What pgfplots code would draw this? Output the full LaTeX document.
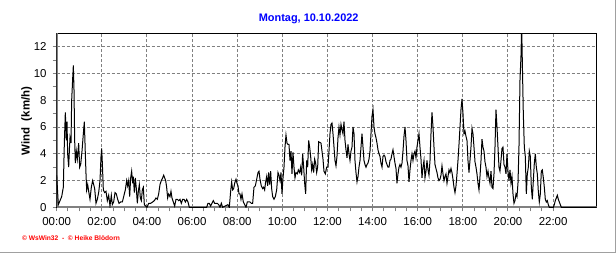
\documentclass[border=0pt]{standalone}
\usepackage{pgfplots}
\usepackage{pgfplotstable}
\pgfplotsset{compat=1.18}
\usepackage{fontspec}
\setmainfont{Liberation Sans}
\definecolor{titleblue}{RGB}{0,0,255}
\definecolor{axgray}{RGB}{128,128,128}
\definecolor{framegray}{RGB}{160,160,160}
\pgfplotstableread{
h v
0.000 2.4
0.074 0.2
0.148 0.5
0.222 0.8
0.295 1.5
0.340 4.8
0.384 7.1
0.428 5.0
0.458 6.4
0.487 4.0
0.532 3.0
0.561 4.2
0.591 5.2
0.635 4.8
0.665 8.0
0.709 9.6
0.739 10.6
0.768 8.8
0.798 5.0
0.827 3.3
0.871 4.2
0.916 3.6
0.975 4.8
1.019 3.0
1.064 3.2
1.123 4.2
1.182 5.5
1.226 6.4
1.270 4.0
1.300 2.5
1.329 1.3
1.374 1.7
1.418 1.2
1.477 0.6
1.536 1.5
1.595 2.0
1.640 1.7
1.684 1.4
1.743 0.3
1.802 0.6
1.861 1.1
1.920 2.0
1.965 3.8
1.994 4.4
2.024 3.3
2.068 1.3
2.127 1.1
2.186 1.2
2.245 0.5
2.304 0.9
2.363 0.1
2.422 0.9
2.467 0.2
2.526 0.4
2.585 1.1
2.644 1.0
2.703 0.6
2.762 0.3
2.836 0.4
2.910 0.4
2.984 0.9
3.043 1.3
3.102 2.0
3.146 1.6
3.191 2.0
3.235 0.8
3.279 2.2
3.323 2.7
3.368 1.8
3.397 2.3
3.442 1.1
3.486 2.2
3.530 1.4
3.575 0.3
3.619 1.2
3.663 1.7
3.708 0.7
3.752 0.5
3.796 1.3
3.840 1.5
3.885 0.2
3.944 0.1
4.003 0.0
4.077 0.3
4.165 0.3
4.254 0.4
4.328 0.5
4.402 0.7
4.461 0.6
4.520 1.0
4.579 1.7
4.638 2.0
4.697 2.2
4.742 2.4
4.786 2.2
4.830 2.0
4.874 1.5
4.919 0.7
4.963 1.0
5.022 0.8
5.066 1.2
5.111 0.7
5.170 0.4
5.229 0.1
5.288 0.6
5.347 0.6
5.406 0.5
5.465 0.6
5.524 0.3
5.583 0.6
5.643 0.6
5.702 0.4
5.761 0.6
5.820 0.4
5.879 0.0
6.647 0.0
6.706 0.3
6.765 0.3
6.824 0.1
6.883 0.3
6.942 0.5
7.001 0.3
7.061 0.3
7.120 0.3
7.179 0.2
7.238 0.0
7.297 0.3
7.356 0.0
7.592 0.2
7.651 0.0
7.710 1.2
7.755 1.9
7.799 1.3
7.843 1.4
7.888 1.8
7.947 2.1
7.991 1.8
8.035 1.6
8.080 1.0
8.124 1.0
8.168 0.6
8.213 1.0
8.272 0.4
8.331 0.2
8.390 0.0
8.449 0.4
8.508 0.4
8.567 0.4
8.626 0.3
8.685 0.3
8.744 1.5
8.804 1.6
8.863 2.1
8.922 2.6
8.966 2.7
9.010 2.1
9.069 1.6
9.129 1.4
9.173 1.5
9.217 1.3
9.261 1.9
9.306 2.3
9.350 1.6
9.394 2.6
9.439 1.7
9.483 2.7
9.527 1.4
9.572 0.8
9.631 0.6
9.690 0.8
9.749 1.3
9.808 2.6
9.852 2.4
9.897 2.0
9.941 2.6
9.985 1.0
10.030 2.2
10.074 3.0
10.118 4.5
10.162 5.4
10.207 4.8
10.251 4.7
10.295 4.7
10.340 3.5
10.384 4.2
10.428 2.5
10.473 4.1
10.517 3.0
10.561 2.2
10.606 2.6
10.665 2.5
10.709 2.8
10.768 2.6
10.812 3.0
10.857 2.4
10.901 4.0
10.945 3.0
10.990 1.8
11.034 1.0
11.078 3.5
11.123 3.0
11.167 5.0
11.211 4.5
11.256 3.8
11.300 2.8
11.344 3.2
11.388 2.6
11.433 3.6
11.477 3.3
11.521 2.6
11.566 3.0
11.610 4.9
11.713 4.8
11.758 4.2
11.802 3.6
11.846 2.7
11.905 2.5
11.965 3.0
12.024 3.0
12.068 4.2
12.112 5.5
12.157 6.2
12.201 6.3
12.245 5.5
12.290 4.5
12.334 3.5
12.378 3.1
12.422 3.8
12.467 5.2
12.511 6.0
12.555 5.4
12.600 6.2
12.644 5.8
12.688 5.5
12.733 6.4
12.777 5.0
12.821 4.3
12.866 3.7
12.910 4.7
12.954 4.0
12.999 3.5
13.043 4.2
13.087 4.5
13.131 6.0
13.176 5.5
13.220 3.5
13.264 2.6
13.309 1.9
13.353 2.3
13.397 3.0
13.442 3.5
13.486 4.5
13.530 5.5
13.575 4.5
13.619 3.5
13.663 3.2
13.708 3.0
13.752 3.2
13.796 3.3
13.840 3.6
13.885 4.2
13.929 5.5
13.973 6.8
14.018 7.3
14.062 6.0
14.106 5.5
14.151 5.2
14.195 4.8
14.239 4.3
14.284 4.0
14.328 3.8
14.372 3.3
14.417 3.0
14.461 3.8
14.505 3.9
14.549 3.8
14.594 3.4
14.638 3.2
14.682 3.0
14.727 3.0
14.771 3.5
14.815 3.6
14.860 4.0
14.904 4.3
14.948 3.8
14.993 3.3
15.037 2.9
15.081 1.8
15.126 2.5
15.170 3.0
15.214 3.2
15.258 3.0
15.303 3.3
15.347 4.2
15.391 5.3
15.436 6.0
15.480 5.0
15.524 3.5
15.569 3.1
15.613 1.9
15.657 2.8
15.702 3.5
15.746 4.0
15.790 3.5
15.835 4.0
15.879 4.2
15.923 3.7
15.967 4.5
16.012 5.0
16.056 5.5
16.100 4.5
16.145 3.6
16.189 2.2
16.233 3.0
16.278 3.5
16.322 2.2
16.366 2.7
16.411 3.5
16.455 2.8
16.499 2.4
16.544 3.5
16.588 5.5
16.632 7.1
16.677 6.0
16.721 4.5
16.765 3.2
16.809 2.9
16.854 2.6
16.898 2.2
16.942 2.0
16.987 2.1
17.031 2.4
17.075 3.1
17.120 2.5
17.164 2.0
17.208 2.3
17.253 2.5
17.297 1.8
17.341 2.3
17.386 2.8
17.430 2.6
17.474 2.9
17.518 2.6
17.563 2.1
17.607 1.5
17.651 1.1
17.696 1.6
17.740 2.5
17.784 3.5
17.829 4.7
17.873 6.0
17.917 7.3
17.962 8.1
18.006 7.0
18.050 5.5
18.095 5.7
18.139 5.3
18.183 5.0
18.227 3.5
18.272 2.6
18.316 3.5
18.360 4.5
18.405 5.9
18.449 5.5
18.493 4.5
18.538 3.4
18.582 3.0
18.626 2.5
18.671 1.8
18.715 1.3
18.759 2.3
18.804 3.5
18.848 5.1
18.892 4.5
18.936 4.2
18.981 3.4
19.025 3.0
19.069 2.3
19.114 2.7
19.158 2.2
19.202 1.8
19.247 2.7
19.291 1.5
19.335 1.4
19.380 2.5
19.424 4.5
19.468 7.3
19.513 6.0
19.557 4.5
19.601 3.0
19.645 2.7
19.690 3.5
19.734 4.4
19.778 4.5
19.823 3.2
19.867 3.0
19.911 2.5
19.956 4.0
20.000 2.7
20.044 2.0
20.089 2.8
20.133 1.8
20.177 2.3
20.222 1.0
20.266 0.3
20.310 0.5
20.355 1.0
20.399 0.8
20.443 1.8
20.487 4.5
20.532 9.5
20.576 11.3
20.606 13.6
20.635 10.9
20.679 7.0
20.724 4.5
20.768 3.8
20.812 1.0
20.857 2.5
20.901 3.0
20.945 4.2
20.990 3.8
21.034 1.5
21.078 0.6
21.123 2.0
21.167 3.3
21.211 4.0
21.256 3.0
21.300 2.5
21.344 1.2
21.388 0.4
21.433 1.0
21.477 2.7
21.521 2.8
21.566 2.2
21.610 1.5
21.654 0.6
21.699 0.4
21.743 0.5
21.787 0.2
21.832 0.0
22.009 0.0
22.053 0.2
22.097 0.5
22.142 0.7
22.186 0.9
22.230 0.6
22.275 0.4
22.319 0.2
22.363 0.0
23.930 0.0
}\winddata
\begin{document}
\begin{tikzpicture}
\path[use as bounding box] (0,0) rectangle (462pt,-189.75pt);
\draw[framegray, line width=0.75pt] (0,-189.4pt) -- (461.6pt,-189.4pt) -- (461.6pt,0);
\node[text=titleblue, font=\fontsize{8.2}{10}\selectfont\bfseries] at (231.5pt,-14.25pt) {Montag, 10.10.2022};
\node[rotate=90, font=\fontsize{8.6}{10}\selectfont\bfseries] at (20pt,-90.75pt) {Wind\ \ (km/h)};
\node[anchor=west, inner sep=0pt, text=red, font=\fontsize{5}{6}\selectfont\bfseries] at (16.3pt,-178.7pt) {© WsWin32 \ - \ © Heike Blödorn};
\begin{axis}[
  at={(42.5pt,-155.5pt)}, anchor=south west,
  scale only axis, width=405pt, height=130.5pt,
  xmin=0, xmax=23.93, ymin=0, ymax=13,
  xtick={0,2,...,22},
  xticklabels={00:00,02:00,04:00,06:00,08:00,10:00,12:00,14:00,16:00,18:00,20:00,22:00},
  minor x tick num=3,
  ytick={0,2,...,12},
  minor y tick num=1,
  /pgf/number format/assume math mode=true,
  tick align=outside, tick pos=left,
  major tick length=3pt, minor tick length=3pt,
  every tick/.style={axgray, line width=0.75pt},
  grid=major,
  major grid style={axgray, line width=0.75pt, dash pattern=on 2.25pt off 1.5pt},
  axis line style={black, line width=0.75pt},
  ticklabel style={font=\fontsize{8.6}{10}\selectfont},
  xticklabel style={yshift=-1pt},
  yticklabel style={xshift=-1pt},
  clip=true,
]
\draw[axgray, line width=1.6pt] (rel axis cs:0,0) -- (rel axis cs:0,1);
\draw[axgray, line width=1.6pt] (rel axis cs:0,0) -- (rel axis cs:1,0);
\addplot[black, line width=0.75pt, line join=miter] table[x=h, y=v] {\winddata};
\end{axis}
\end{tikzpicture}
\end{document}
